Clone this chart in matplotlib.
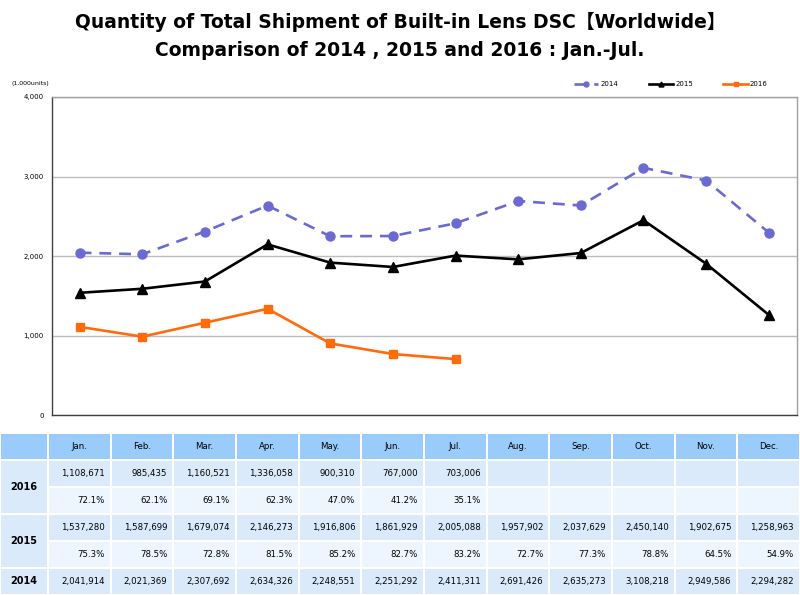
import matplotlib
matplotlib.use("Agg")
import matplotlib.pyplot as plt
from matplotlib.patches import Rectangle

plt.rcParams['font.family'] = ['DejaVu Sans', 'Noto Sans CJK JP']

months = ["Jan.", "Feb.", "Mar.", "Apr.", "May.", "Jun.", "Jul.", "Aug.", "Sep.", "Oct.", "Nov.", "Dec."]
ship_2014 = [2041914, 2021369, 2307692, 2634326, 2248551, 2251292, 2411311, 2691426, 2635273, 3108218, 2949586, 2294282]
ship_2015 = [1537280, 1587699, 1679074, 2146273, 1916806, 1861929, 2005088, 1957902, 2037629, 2450140, 1902675, 1258963]
ship_2016 = [1108671, 985435, 1160521, 1336058, 900310, 767000, 703006]
pct_2015 = [75.3, 78.5, 72.8, 81.5, 85.2, 82.7, 83.2, 72.7, 77.3, 78.8, 64.5, 54.9]
pct_2016 = [72.1, 62.1, 69.1, 62.3, 47.0, 41.2, 35.1]
yticks = [0, 1000, 2000, 3000, 4000]

W, H = 800, 595
fig = plt.figure(figsize=(W / 100, H / 100), dpi=100)

# ---- chart axes ----
L, R, T, B = 52, 797, 97, 415
ax = fig.add_axes([L / W, 1 - B / H, (R - L) / W, (B - T) / H])
c2014, c2015, c2016 = "#6A6AD2", "#000000", "#FF6A0A"
x14 = list(range(len(ship_2014)))
x15 = list(range(len(ship_2015)))
x16 = list(range(len(ship_2016)))
ax.plot(x14, [v / 1000 for v in ship_2014], color=c2014, lw=1.9, ls=(0, (4.5, 3)),
        marker="o", ms=6.5, label="2014", zorder=3)
ax.plot(x15, [v / 1000 for v in ship_2015], color=c2015, lw=1.9,
        marker="^", ms=6.5, label="2015", zorder=4)
ax.plot(x16, [v / 1000 for v in ship_2016], color=c2016, lw=1.9,
        marker="s", ms=6, label="2016", zorder=5)

ax.set_xlim(-0.44, 11.45)
ax.set_ylim(0, 4000)
ax.set_yticks(yticks)
ax.set_yticklabels([f"{t:,}" for t in yticks], fontsize=5)
ax.set_xticks([])
ax.tick_params(axis="y", length=0, pad=6)
ax.grid(axis="y", color="#BDBDBD", lw=1.0)
ax.set_axisbelow(True)
for s in ["top", "right"]:
    ax.spines[s].set_color("#A0A0A0")
    ax.spines[s].set_linewidth(1.0)
for s in ["left", "bottom"]:
    ax.spines[s].set_color("#404040")
    ax.spines[s].set_linewidth(1.0)

fig.text(12 / W, 1 - 84 / H, "(1,000units)", fontsize=4.5, va="center", ha="left")

leg = ax.legend(ncol=3, frameon=False, fontsize=5, handlelength=3.5, columnspacing=4.4,
                handletextpad=0.3, markerscale=0.55,
                loc="center right", bbox_to_anchor=(774 / W, 1 - 84 / H),
                bbox_transform=fig.transFigure)

# ---- title ----
fig.text(0.5, 1 - 22 / H, "Quantity of Total Shipment of Built-in Lens DSC【Worldwide】",
         ha="center", va="center", fontsize=13.5, fontweight="bold")
fig.text(0.5, 1 - 50 / H, "Comparison of 2014 , 2015 and 2016 : Jan.-Jul.",
         ha="center", va="center", fontsize=13.5, fontweight="bold")

# ---- table ----
tab = fig.add_axes([0, 0, 1, 1])
tab.set_xlim(0, W)
tab.set_ylim(H, 0)
tab.axis("off")

top = 433
rh = 27
c0w = 48
cw = (W - c0w) / 12
hdr_col = "#9ACCFB"
val_col = "#DBEAFB"
pct_col = "#EDF5FE"
gap = 1.0

def cell(x0, y0, w, h, color):
    tab.add_patch(Rectangle((x0 + gap, y0 + gap), w - 2 * gap, h - 2 * gap,
                            facecolor=color, edgecolor="none"))

# header
cell(0, top, c0w, rh, hdr_col)
for i, m in enumerate(months):
    x0 = c0w + i * cw
    cell(x0, top, cw, rh, hdr_col)
    tab.text(x0 + cw / 2, top + rh / 2, m, ha="center", va="center", fontsize=6.2)

rows = [
    ("2016", ship_2016, pct_2016),
    ("2015", ship_2015, pct_2015),
    ("2014", ship_2014, None),
]
y = top + rh
for label, vals, pcts in rows:
    nsub = 2 if pcts is not None else 1
    cell(0, y, c0w, rh * nsub, val_col)
    tab.text(c0w / 2, y + rh * nsub / 2, label, ha="center", va="center",
             fontsize=7, fontweight="bold")
    for i in range(12):
        x0 = c0w + i * cw
        cell(x0, y, cw, rh, val_col)
        if i < len(vals):
            tab.text(x0 + cw - 6, y + rh / 2, f"{vals[i]:,}", ha="right", va="center", fontsize=6.2)
        if pcts is not None:
            cell(x0, y + rh, cw, rh, pct_col)
            if i < len(pcts):
                tab.text(x0 + cw - 6, y + rh * 1.5, f"{pcts[i]:.1f}%", ha="right",
                         va="center", fontsize=6.2)
    y += rh * nsub

fig.savefig("out.png", dpi=100)
